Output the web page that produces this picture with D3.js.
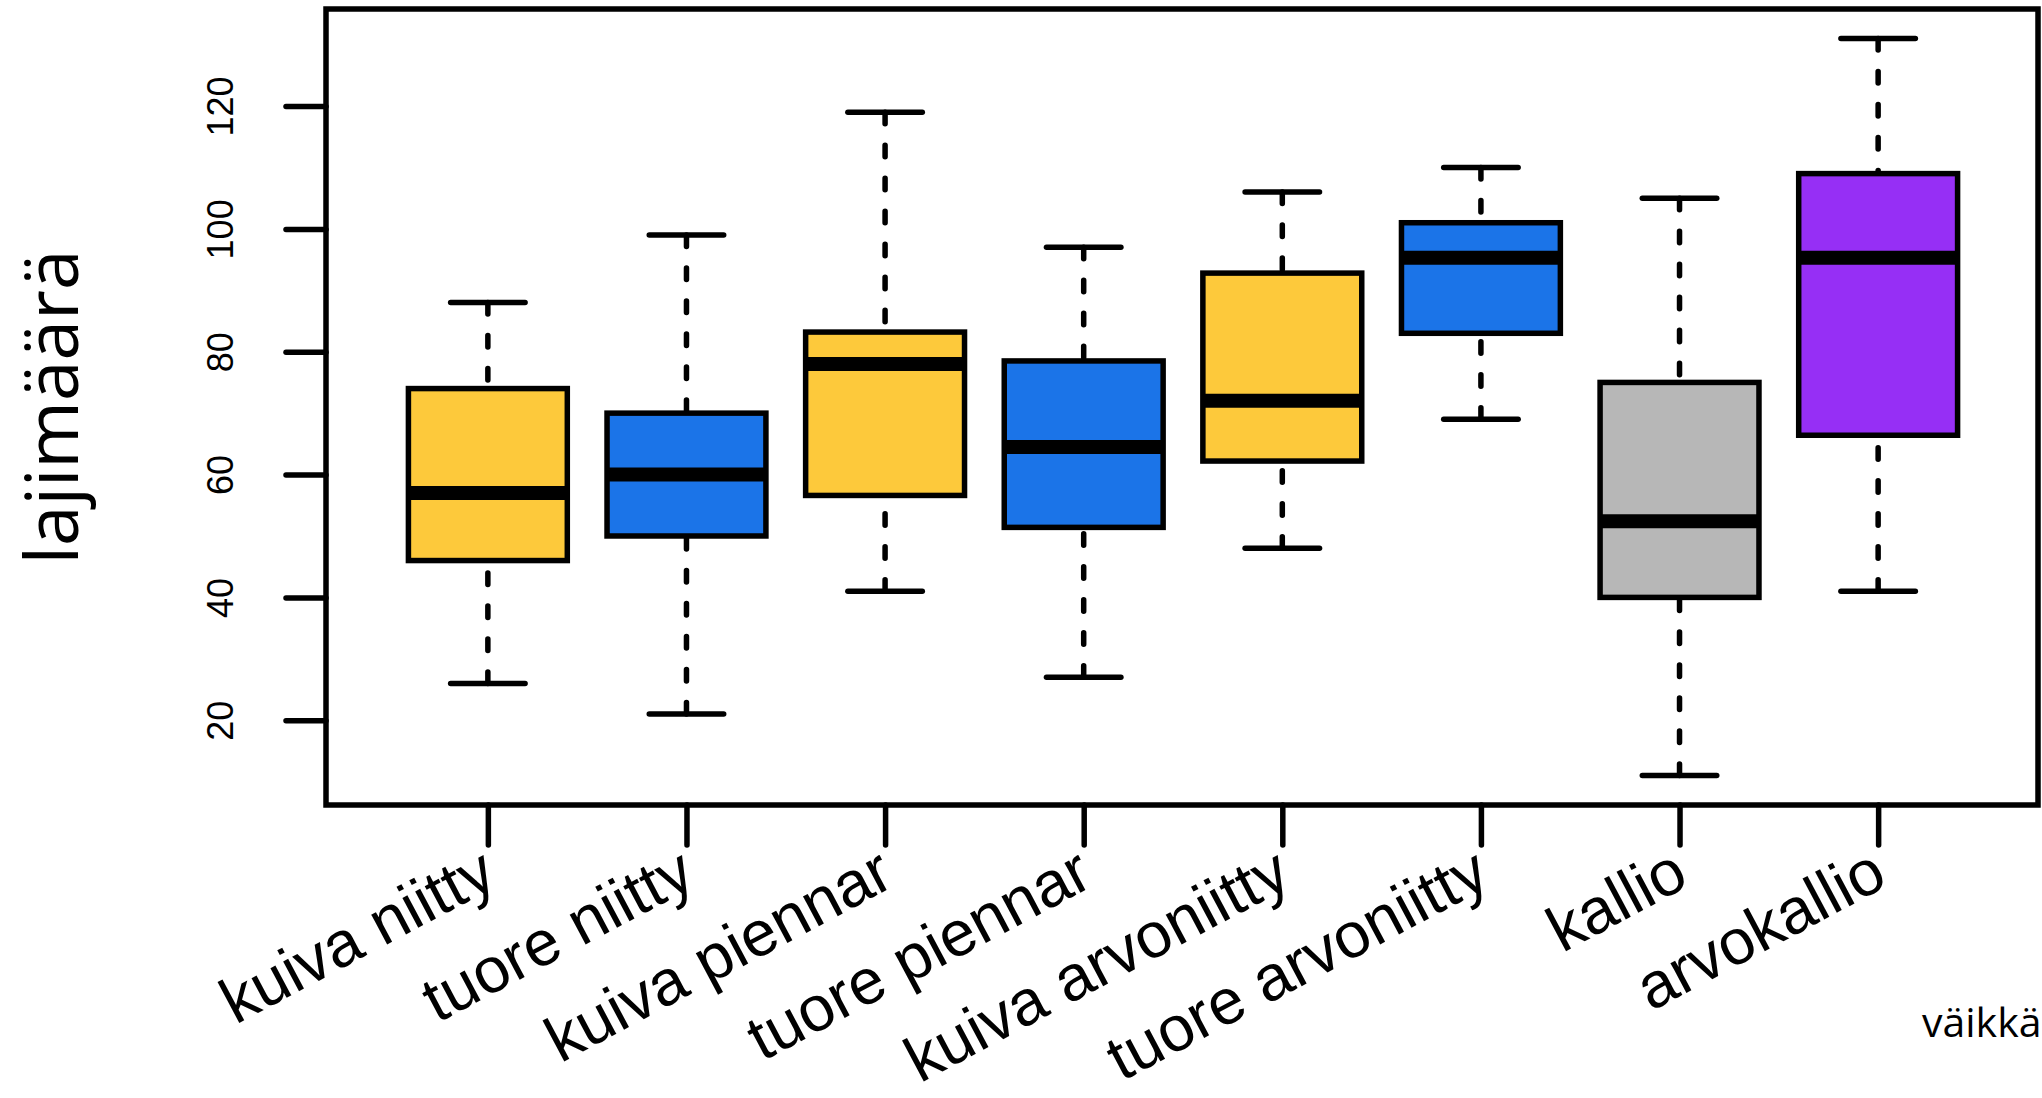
<!DOCTYPE html>
<html>
<head>
<meta charset="utf-8">
<script src="https://d3js.org/d3.v7.min.js"></script>
<style>
  html, body { margin: 0; padding: 0; background: #ffffff; }
  svg { display: block; }
</style>
</head>
<body>
<script>
// ---- data ----
const categories = ["kuiva niitty", "tuore niitty", "kuiva piennar", "tuore piennar",
                    "kuiva arvoniitty", "tuore arvoniitty", "kallio", "arvokallio"];
const whiskerLow  = [26, 21, 41, 27, 48, 69, 11, 41];
const quartile1   = [46, 50, 56.6, 51.4, 62.2, 83, 40, 66.4];
const medians     = [57, 60, 78, 64.5, 72, 95.3, 52.4, 95.3];
const quartile3   = [74, 70, 83.2, 78.5, 92.8, 101, 75, 109];
const whiskerHigh = [88, 99, 119, 97, 106, 110, 105, 131];
const boxColors   = ["#FDC93B", "#1B74E8", "#FDC93B", "#1B74E8",
                     "#FDC93B", "#1B74E8", "#B7B7B7", "#962FF5"];
const yTicks      = [20, 40, 60, 80, 100, 120];
const yTitle      = "lajimäärä";
const cornerText  = "väikkä";

// ---- layout ----
const W = 2042, H = 1098;
const frame = { left: 326, right: 2038, top: 9, bottom: 805 };
const n = categories.length;

const svg = d3.select("body").append("svg")
  .attr("width", W).attr("height", H)
  .attr("viewBox", `0 0 ${W} ${H}`);

// R-like scales: x usr = [0.5, n+0.5] expanded 4%, y = data range expanded 4%
const xPad = 0.04 * n;
const x = d3.scaleLinear().domain([0.5 - xPad, n + 0.5 + xPad]).range([325, 2041]);
const lo = d3.min(whiskerLow), hi = d3.max(whiskerHigh), r = hi - lo;
const y = d3.scaleLinear().domain([lo - 0.04 * r, hi + 0.04 * r]).range([frame.bottom, frame.top]);

const step = x(2) - x(1);
const boxW = 0.8 * step;
const capHalf = boxW * 0.25 - 2.5;

const data = categories.map((c, i) => ({
  name: c, pos: i + 1,
  lw: whiskerLow[i], q1: quartile1[i], med: medians[i], q3: quartile3[i], hw: whiskerHigh[i],
  color: boxColors[i]
}));

const lw = 5.5;
const g = svg.append("g");

// whiskers (drawn from whisker end toward the hinge, like R's bxp)
const wg = g.selectAll("g.box").data(data).join("g").attr("class", "box");
wg.append("line")
  .attr("x1", d => x(d.pos)).attr("x2", d => x(d.pos))
  .attr("y1", d => y(d.lw)).attr("y2", d => y(d.q1))
  .attr("stroke", "#000").attr("stroke-width", lw)
  .attr("stroke-linecap", "round").attr("stroke-dasharray", "11.5 21.5");
wg.append("line")
  .attr("x1", d => x(d.pos)).attr("x2", d => x(d.pos))
  .attr("y1", d => y(d.hw)).attr("y2", d => y(d.q3))
  .attr("stroke", "#000").attr("stroke-width", lw)
  .attr("stroke-linecap", "round").attr("stroke-dasharray", "11.5 21.5");
// staples
wg.append("line")
  .attr("x1", d => x(d.pos) - capHalf).attr("x2", d => x(d.pos) + capHalf)
  .attr("y1", d => y(d.lw)).attr("y2", d => y(d.lw))
  .attr("stroke", "#000").attr("stroke-width", lw).attr("stroke-linecap", "round");
wg.append("line")
  .attr("x1", d => x(d.pos) - capHalf).attr("x2", d => x(d.pos) + capHalf)
  .attr("y1", d => y(d.hw)).attr("y2", d => y(d.hw))
  .attr("stroke", "#000").attr("stroke-width", lw).attr("stroke-linecap", "round");
// boxes
wg.append("rect")
  .attr("x", d => x(d.pos) - boxW / 2).attr("width", boxW)
  .attr("y", d => y(d.q3)).attr("height", d => y(d.q1) - y(d.q3))
  .attr("fill", d => d.color).attr("stroke", "#000").attr("stroke-width", lw);
// medians
wg.append("line")
  .attr("x1", d => x(d.pos) - boxW / 2).attr("x2", d => x(d.pos) + boxW / 2)
  .attr("y1", d => y(d.med)).attr("y2", d => y(d.med))
  .attr("stroke", "#000").attr("stroke-width", 14).attr("stroke-linecap", "butt");

// frame
svg.append("rect")
  .attr("x", frame.left).attr("y", frame.top)
  .attr("width", frame.right - frame.left).attr("height", frame.bottom - frame.top)
  .attr("fill", "none").attr("stroke", "#000").attr("stroke-width", lw);

// y axis (left), labels rotated like R's las=0
const yAxis = d3.axisLeft(y).tickValues(yTicks).tickSize(40).tickPadding(0).tickFormat(d3.format("d"));
const ya = svg.append("g").attr("transform", `translate(${frame.left},0)`).call(yAxis);
ya.select(".domain").remove();
ya.selectAll(".tick line").attr("stroke", "#000").attr("stroke-width", lw).attr("stroke-linecap", "round");
ya.selectAll(".tick text")
  .attr("x", null).attr("dy", null)
  .attr("transform", "translate(-93,0) rotate(-90)")
  .attr("text-anchor", "middle")
  .attr("fill", "#000")
  .style("font-family", "'Liberation Sans', Arial, sans-serif")
  .style("font-size", "36px");

// x axis (bottom) with ticks at box positions
const xAxis = d3.axisBottom(x).tickValues(data.map(d => d.pos)).tickSize(40).tickFormat(() => "");
const xa = svg.append("g").attr("transform", `translate(0,${frame.bottom})`).call(xAxis);
xa.select(".domain").remove();
xa.selectAll(".tick line").attr("stroke", "#000").attr("stroke-width", lw).attr("stroke-linecap", "round");
xa.selectAll(".tick text").remove();

// rotated category labels
svg.append("g").selectAll("text").data(data).join("text")
  .attr("transform", d => `translate(${x(d.pos) + 1},865) rotate(-28)`)
  .attr("text-anchor", "end")
  .attr("dy", "0.35em")
  .attr("fill", "#000")
  .style("font-family", "'Liberation Sans', Arial, sans-serif")
  .style("font-size", "64px")
  .text(d => d.name);

// y title
svg.append("text")
  .attr("transform", "translate(78,407) rotate(-90)")
  .attr("text-anchor", "middle")
  .attr("fill", "#000")
  .style("font-family", "'Open Sans', 'Noto Sans', sans-serif")
  .style("font-size", "73px")
  .text(yTitle);

// corner text (cut off at right edge like the reference)
svg.append("text")
  .attr("x", 1922).attr("y", 1037)
  .attr("fill", "#000")
  .style("font-family", "'Open Sans', 'Noto Sans', sans-serif")
  .style("font-size", "41px")
  .text(cornerText);
</script>
</body>
</html>
